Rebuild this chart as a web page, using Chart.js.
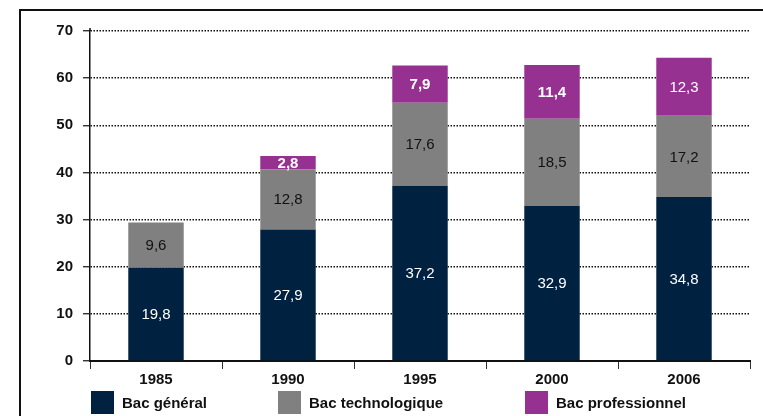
<!DOCTYPE html>
<html>
<head>
<meta charset="utf-8">
<script src="https://cdn.jsdelivr.net/npm/chart.js@4"></script>
<style>
  body { margin: 0; background: #fff; }
  #wrap { position: relative; width: 763px; height: 416px; overflow: hidden; font-family: "Liberation Sans", Arial, sans-serif; }
  #frame { position: absolute; left: 19px; top: 9px; width: 800px; height: 420px; border-left: 2px solid #111; border-top: 2px solid #111; }
  #chartBox { position: absolute; left: 0; top: 0; width: 763px; height: 416px; }
  .leg { position: absolute; top: 391px; height: 23px; display: flex; align-items: center; font-weight: bold; font-size: 15px; color: #111; }
  .leg span.sq { display: inline-block; width: 23px; height: 23px; margin-right: 8px; }
</style>
</head>
<body>
<div id="wrap">
  <div id="frame"></div>
  <div id="chartBox"><canvas id="bacChart" width="763" height="416"></canvas></div>
  <div id="legend"></div>
</div>
<script>
// years and bachelors by type (values as printed on the bars)
const years = ['1985', '1990', '1995', '2000', '2006'];
const bacGeneral = [19.8, 27.9, 37.2, 32.9, 34.8];
const bacTechno = [9.6, 12.8, 17.6, 18.5, 17.2];
const bacPro = [null, 2.8, 7.9, 11.4, 12.3];
const seriesNames = ['Bac général', 'Bac technologique', 'Bac professionnel'];
const seriesColors = ['#00213F', '#808080', '#963191'];

const fmt = v => v.toFixed(1).replace('.', ',');

// writes the value in the middle of each bar segment
const valueLabels = {
    id: 'valueLabels',
    afterDatasetsDraw(chart) {
        const ctx = chart.ctx;
        ctx.save();
        ctx.textAlign = 'center';
        ctx.textBaseline = 'middle';
        chart.data.datasets.forEach((ds, i) => {
            const meta = chart.getDatasetMeta(i);
            meta.data.forEach((bar, j) => {
                const v = ds.data[j];
                if (v == null) return;
                let weight = 'normal';
                if (i == 2 && j < 4) weight = 'bold';
                ctx.font = weight + ' 15px "Liberation Sans", Arial, sans-serif';
                ctx.fillStyle = i == 1 ? '#111' : '#fff';
                ctx.fillText(fmt(v), bar.x, (bar.y + bar.base) / 2 + 1);
            });
        });
        ctx.restore();
    }
};

// y axis line sticks out a little above the top gridline
const axisTop = {
    id: 'axisTop',
    afterDraw(chart) {
        const ctx = chart.ctx;
        const y = chart.scales.y;
        ctx.save();
        ctx.strokeStyle = '#111';
        ctx.lineWidth = 1.5;
        ctx.beginPath();
        ctx.moveTo(y.right, y.top - 3);
        ctx.lineTo(y.right, y.top);
        ctx.stroke();
        ctx.restore();
    }
};

const datasets = [bacGeneral, bacTechno, bacPro].map((d, i) => ({
    label: seriesNames[i],
    data: d,
    backgroundColor: seriesColors[i],
    borderWidth: 0,
    barPercentage: 0.42,
    categoryPercentage: 1
}));

new Chart(document.getElementById('bacChart'), {
    type: 'bar',
    data: { labels: years, datasets: datasets },
    plugins: [valueLabels, axisTop],
    options: {
        responsive: false,
        animation: false,
        layout: { padding: { left: 20, right: 13, top: 31, bottom: 27 } },
        plugins: { legend: { display: false }, tooltip: { enabled: false } },
        scales: {
            x: {
                stacked: true,
                afterFit: s => { s.height = 28; },
                grid: { drawOnChartArea: false, drawTicks: true, tickLength: 8, color: '#333', lineWidth: 1 },
                border: { display: true, color: '#111', width: 2 },
                ticks: { color: '#111', padding: 2, font: { family: '"Liberation Sans", Arial, sans-serif', size: 15, weight: 'bold' } }
            },
            y: {
                stacked: true,
                min: 0,
                max: 70,
                afterFit: s => { s.width = 70; },
                grid: { color: '#111', lineWidth: 1.5, tickLength: 7, tickColor: '#111', tickWidth: 1.2 },
                border: { display: true, color: '#111', width: 1.5, dash: [1.5, 1.5] },
                ticks: { stepSize: 10, color: '#111', padding: 10, font: { family: '"Liberation Sans", Arial, sans-serif', size: 15, weight: 'bold' } }
            }
        }
    }
});

// legend row under the axis
const legendPos = [91, 278, 525];
const legend = document.getElementById('legend');
seriesNames.forEach((name, i) => {
    const item = document.createElement('div');
    item.className = 'leg';
    item.style.left = legendPos[i] + 'px';
    item.innerHTML = '<span class="sq" style="background:' + seriesColors[i] + '"></span>' + name;
    legend.appendChild(item);
});
</script>
</body>
</html>
